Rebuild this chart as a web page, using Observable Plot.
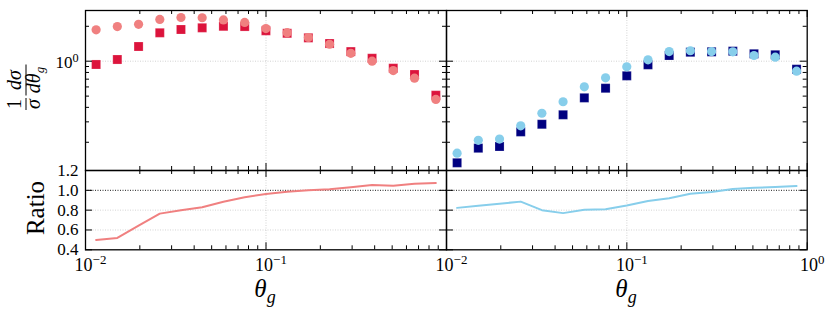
<!DOCTYPE html>
<html><head><meta charset="utf-8">
<script src="https://cdn.jsdelivr.net/npm/d3@7"></script>
<script src="https://cdn.jsdelivr.net/npm/@observablehq/plot@0.6"></script>
<style>
body{margin:0;background:#fff;}
#c{position:relative;width:831px;height:315px;font-family:"Liberation Serif",serif;}
#c svg{position:absolute;left:0;top:0;}
</style></head><body><div id="c"></div>
<script>
// bin centres (theta_g)
const thetaG = [0.01145, 0.01501, 0.01968, 0.0258, 0.0338, 0.0443, 0.0581, 0.0762, 0.0999, 0.131, 0.1717, 0.225, 0.295, 0.387, 0.507, 0.665, 0.873];
// left panel
const leftSquares = [0.937, 1.034, 1.339, 1.757, 1.876, 1.94, 2.0, 1.99, 1.83, 1.74, 1.59, 1.42, 1.21, 1.06, 0.87, 0.768, 0.509];
const leftCircles = [1.866, 1.99, 2.08, 2.29, 2.38, 2.37, 2.27, 2.16, 1.91, 1.76, 1.60, 1.40, 1.17, 1.0, 0.83, 0.714, 0.468];
const leftRatio = [0.50, 0.52, 0.645, 0.765, 0.80, 0.83, 0.885, 0.93, 0.963, 0.985, 1.0, 1.01, 1.03, 1.053, 1.046, 1.066, 1.073];
// right panel
const rightSquares = [0.133, 0.178, 0.184, 0.246, 0.286, 0.345, 0.483, 0.585, 0.748, 0.931, 1.12, 1.196, 1.205, 1.22, 1.158, 1.135, 0.853];
const rightCircles = [0.161, 0.208, 0.213, 0.277, 0.356, 0.447, 0.601, 0.719, 0.895, 1.028, 1.21, 1.23, 1.21, 1.205, 1.12, 1.083, 0.82];
const rightRatio = [0.823, 0.845, 0.865, 0.886, 0.80, 0.77, 0.803, 0.81, 0.846, 0.893, 0.92, 0.966, 0.983, 1.013, 1.026, 1.033, 1.043];
// ticks
const xMajor = [0.01, 0.1, 1];
const xMinor = [0.02,0.03,0.04,0.05,0.06,0.07,0.08,0.09,0.2,0.3,0.4,0.5,0.6,0.7,0.8,0.9];
const xTickExp = ["\u22122", "\u22121", "0"];
const topYMajor = [1];
const topYMinor = [0.2,0.3,0.4,0.5,0.6,0.7,0.8,0.9,2];
const ratioYMajor = [0.4, 0.6, 0.8, 1.0, 1.2];
const ratioYLabels = ["0.4", "0.6", "0.8", "1.0", "1.2"];

const W = 831, H = 315;
const X1 = 85, XM = 446, X2 = 806.7, Y1 = 10, YM = 170, Y2 = 249.3;
const topDomain = [0.1142, 2.736];
const FONT = "'Liberation Serif', serif";

const rows = (ys) => thetaG.map((x, i) => ({x, y: ys[i]}));

function ticks(xl, xr, yt, yb, yMaj, yMin) {
  const h = yb - yt, w = xr - xl;
  const M = 7, m = 4;
  const o = {stroke: "black", strokeWidth: 1};
  return [
    Plot.ruleX(xMajor, {x: d => d, insetBottom: h - M, ...o}),
    Plot.ruleX(xMajor, {x: d => d, insetTop: h - M, ...o}),
    Plot.ruleX(xMinor, {x: d => d, insetBottom: h - m, ...o}),
    Plot.ruleX(xMinor, {x: d => d, insetTop: h - m, ...o}),
    Plot.ruleY(yMaj, {y: d => d, insetRight: w - M, ...o}),
    Plot.ruleY(yMaj, {y: d => d, insetLeft: w - M, ...o}),
    Plot.ruleY(yMin, {y: d => d, insetRight: w - m, ...o}),
    Plot.ruleY(yMin, {y: d => d, insetLeft: w - m, ...o})
  ];
}

function panel(xl, xr, yt, yb, yScale, marks) {
  return Plot.plot({
    width: W, height: H,
    marginLeft: xl, marginRight: W - xr, marginTop: yt, marginBottom: H - yb,
    style: `background:transparent;overflow:visible;font-family:${FONT};`,
    x: {type: "log", domain: [0.01, 1], axis: null},
    y: {...yScale, axis: null},
    marks
  });
}

const grid = {stroke: "#c8c8c8", strokeWidth: 0.8, strokeDasharray: "1,1.5"};

function topPanel(xl, xr, sq, ci, sqColor, ciColor, withLabels) {
  return panel(xl, xr, Y1, YM, {type: "log", domain: topDomain}, [
    Plot.ruleX([0.1], {x: d => d, ...grid}),
    Plot.ruleY([1], {y: d => d, ...grid}),
    Plot.dot(rows(sq), {x: "x", y: "y", symbol: "square", r: 5.1, fill: sqColor, stroke: "white", strokeOpacity: 0.35, strokeWidth: 0.6}),
    Plot.dot(rows(ci), {x: "x", y: "y", symbol: "circle", r: 4.6, fill: ciColor}),
    ...ticks(xl, xr, Y1, YM, topYMajor, topYMinor),
    withLabels ? Plot.text(topYMajor, {y: d => d, frameAnchor: "left", dx: -7, dy: 1, textAnchor: "end", text: () => "10^0", fontSize: 17, fill: "black", className: "sup-label"}) : null,
    Plot.frame({stroke: "black", strokeWidth: 1.3})
  ]);
}

function ratioPanel(xl, xr, ratio, color, withYLabels, xLabelIdx) {
  return panel(xl, xr, YM, Y2, {type: "linear", domain: [0.4, 1.2]}, [
    Plot.ruleX([0.1], {x: d => d, ...grid}),
    Plot.ruleY([0.6, 0.8], {y: d => d, ...grid}),
    Plot.ruleY([1.0], {y: d => d, stroke: "black", strokeWidth: 0.9, strokeDasharray: "1,1.5"}),
    Plot.line(rows(ratio), {x: "x", y: "y", stroke: color, strokeWidth: 2}),
    ...ticks(xl, xr, YM, Y2, ratioYMajor, []),
    withYLabels ? Plot.text(ratioYMajor, {y: d => d, frameAnchor: "left", dx: -7, textAnchor: "end", text: (d, i) => ratioYLabels[i], fontSize: 17, fill: "black"}) : null,
    Plot.text(xLabelIdx.map(i => xMajor[i]), {x: d => d, frameAnchor: "bottom", dx: 5, dy: 15, lineAnchor: "middle", text: d => "10^" + xTickExp[xMajor.indexOf(d)], fontSize: 18, fill: "black", className: "sup-label"}),
    Plot.frame({stroke: "black", strokeWidth: 1.3})
  ]);
}

const c = document.getElementById("c");
c.append(topPanel(X1, XM, leftSquares, leftCircles, "crimson", "lightcoral", true));
c.append(topPanel(XM, X2, rightSquares, rightCircles, "navy", "skyblue", false));
c.append(ratioPanel(X1, XM, leftRatio, "lightcoral", true, [0, 1]));
c.append(ratioPanel(XM, X2, rightRatio, "skyblue", false, [0, 1, 2]));

// turn "10^e" into 10 with a real superscript
d3.select(c).selectAll("g.sup-label text").each(function() {
  const s = this.textContent;
  const [base, exp] = s.split("^");
  const t = d3.select(this);
  t.text(null);
  t.append("tspan").text(base);
  t.append("tspan").attr("font-size", "0.72em").attr("dy", "-0.5em").text(exp);
});

// axis titles
const svg = d3.select(c).append("svg").attr("width", W).attr("height", H)
  .style("font-family", FONT).style("overflow", "visible");
// y title fraction  (1/σ)(dσ/dθ_g)
const g = svg.append("g").attr("transform", "translate(26,88) rotate(-90)").attr("font-size", 20);
function frac(cx, num, den, wbar) {
  const t1 = g.append("text").attr("x", cx).attr("y", -5).attr("text-anchor", "middle");
  num(t1);
  const t2 = g.append("text").attr("x", cx).attr("y", 14).attr("text-anchor", "middle");
  den(t2);
  g.append("line").attr("x1", cx - wbar / 2).attr("x2", cx + wbar / 2).attr("y1", 0).attr("y2", 0).attr("stroke", "black").attr("stroke-width", 1);
}
frac(-16, t => t.text("1"), t => t.append("tspan").attr("font-style", "italic").text("\u03C3"), 12);
frac(8, t => { t.append("tspan").attr("font-style", "italic").text("d\u03C3"); },
     t => { t.append("tspan").attr("font-style", "italic").text("d\u03B8");
            t.append("tspan").attr("font-style", "italic").attr("font-size", 13).attr("dy", 4).text("g"); }, 31);
// Ratio
svg.append("text").attr("transform", "translate(44,208) rotate(-90)").attr("text-anchor", "middle")
  .attr("font-size", 25).text("Ratio");
// theta_g
for (const cx of [265, 626]) {
  const t = svg.append("text").attr("x", cx).attr("y", 297).attr("text-anchor", "middle").attr("font-size", 25);
  t.append("tspan").attr("font-style", "italic").text("\u03B8");
  t.append("tspan").attr("font-style", "italic").attr("font-size", 18).attr("dy", 6).text("g");
}
</script></body></html>
